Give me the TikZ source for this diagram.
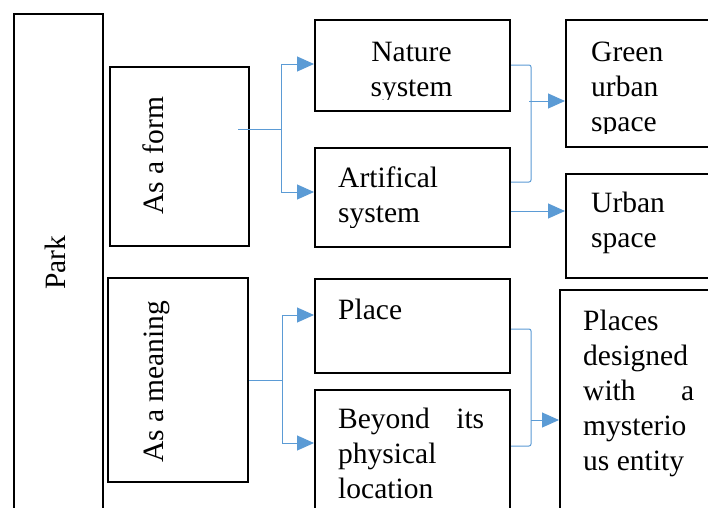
\documentclass[tikz,border=0pt]{standalone}
\usepackage{fontspec}
\setmainfont{Liberation Serif}
\usetikzlibrary{arrows.meta}
\definecolor{connblue}{HTML}{5B9BD5}
\newcommand\LftLines[1]{\vtop{\baselineskip=35pt\lineskiplimit=-100pt\halign{##\hfil\cr#1\crcr}}}
\newcommand\CtrLines[1]{\vtop{\baselineskip=35pt\lineskiplimit=-100pt\halign{\hfil##\hfil\cr#1\crcr}}}
\tikzset{
  box/.style={draw=black, line width=2pt, fill=none, inner sep=0pt},
  txt/.style={inner sep=0pt, font=\fontsize{29.5}{35}\selectfont},
  conn/.style={draw=connblue, line width=1pt},
  arr/.style={conn, -{Triangle[length=17pt,width=15pt]}},
}
\begin{document}
\begin{tikzpicture}[x=1pt,y=-1pt]
\useasboundingbox (0,0) rectangle (708,507);
\clip (0,0) rectangle (708,507);
\fill[white] (0,0) rectangle (708,507);
% boxes
\node[box, anchor=north west, minimum width=89pt, minimum height=520pt] (park) at (13,12.5) {};
\node[box, anchor=north west, minimum width=139pt, minimum height=179pt] (form) at (109,66) {};
\node[box, anchor=north west, minimum width=140pt, minimum height=204pt] (meaning) at (107,277) {};
\node[box, anchor=north west, minimum width=195pt, minimum height=91pt] (nature) at (314,19) {};
\node[box, anchor=north west, minimum width=195pt, minimum height=99pt] (artif) at (314,147) {};
\node[box, anchor=north west, minimum width=160pt, minimum height=127pt] (green) at (565,19) {};
\node[box, anchor=north west, minimum width=160pt, minimum height=104pt] (urban) at (565,173) {};
\node[box, anchor=north west, minimum width=195pt, minimum height=94pt] (place) at (314,278) {};
\node[box, anchor=north west, minimum width=195pt, minimum height=140pt] (beyond) at (314,389) {};
\node[box, anchor=north west, minimum width=170pt, minimum height=240pt] (places) at (559,289) {};
% texts
\node[txt, rotate=90, anchor=base west] (parkT) at (65,290) {Park};
\node[txt, rotate=90, anchor=base west] (formT) at (163,215) {As a form};
\node[txt, rotate=90, anchor=base west] (meaningT) at (163,463) {As a meaning};
\begin{scope}
  \clip (nature.north west) rectangle (nature.east |- 0,99);
  \node[txt, anchor=base] (natureT) at (411.5,61.5) {\CtrLines{Nature\cr system}};
\end{scope}
\begin{scope}
  \clip (artif.north west) rectangle (artif.east |- 0,227);
  \node[txt, anchor=base west] (artifT) at (338,187) {\LftLines{Artifical\cr system}};
\end{scope}
\begin{scope}
  \clip (green.north west) rectangle (green.east |- 0,133);
  \node[txt, anchor=base west] (greenT) at (591,61.5) {\LftLines{Green\cr urban\cr space}};
\end{scope}
\node[txt, anchor=base west] (urbanT) at (591,212.5) {\LftLines{Urban\cr space}};
\node[txt, anchor=base west] (placeT) at (338,319) {Place};
\node[txt, anchor=base west] (beyondT) at (338,428) {\LftLines{\makebox[146pt][s]{Beyond its}\cr physical\cr location}};
\node[txt, anchor=base west] (placesT) at (583,330) {\LftLines{Places\cr designed\cr \makebox[111pt][s]{with a}\cr mysterio\cr us entity}};
% connector points
\coordinate (f0) at (238,129);
\coordinate (f1) at (281,129);
\coordinate (fa) at (281,64);
\coordinate (fb) at (281,192);
\coordinate (m0) at (meaning.east |- 0,380);
\coordinate (m1) at (282,380);
\coordinate (ma) at (282,315);
\coordinate (mb) at (282,443);
\coordinate (n0) at (nature.east |- 0,65);
\coordinate (n1) at (531,65);
\coordinate (n2) at (531,182);
\coordinate (n3) at (artif.east |- 0,182);
\coordinate (ng) at (529,101);
\coordinate (a0) at (artif.east |- 0,211);
\coordinate (p0) at (place.east |- 0,329);
\coordinate (p1) at (531,329);
\coordinate (p2) at (531,446);
\coordinate (p3) at (beyond.east |- 0,446);
\coordinate (pg) at (531,420);
% connectors
\draw[conn] (f0) -- (f1);
\draw[arr] (f1) -- (fa) -- (nature.west |- fa);
\draw[arr] (f1) -- (fb) -- (artif.west |- fb);
\draw[conn] (m0) -- (m1);
\draw[arr] (m1) -- (ma) -- (place.west |- ma);
\draw[arr] (m1) -- (mb) -- (beyond.west |- mb);
\draw[conn, rounded corners=2pt] (n0) -- (n1) -- (n2) -- (n3);
\draw[arr] (ng) -- (green.west |- ng);
\draw[arr] (a0) -- (urban.west |- a0);
\draw[conn, rounded corners=2pt] (p0) -- (p1) -- (p2) -- (p3);
\draw[arr] (pg) -- (places.west |- pg);
\end{tikzpicture}
\end{document}
